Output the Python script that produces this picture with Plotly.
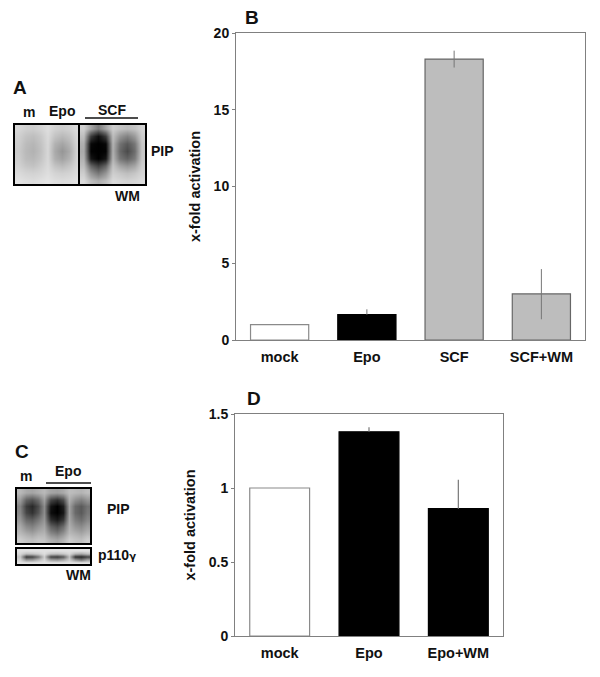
import plotly.graph_objects as go

W, H = 600, 677
FONT = "Liberation Sans"

# Panel B
b_cats = ["mock", "Epo", "SCF", "SCF+WM"]
b_vals = [1.0, 1.65, 18.3, 3.0]
b_err_up = [0, 0.35, 0.55, 1.62]
b_err_dn = [0, 0, 0.55, 1.65]
b_colors = ["#ffffff", "#000000", "#bdbdbd", "#bdbdbd"]
b_lines = ["#8a8a8a", "#000000", "#666666", "#666666"]
b_ticks = [0, 5, 10, 15, 20]

# Panel D
d_cats = ["mock", "Epo", "Epo+WM"]
d_vals = [1.0, 1.38, 0.86]
d_err_up = [0, 0.03, 0.195]
d_colors = ["#ffffff", "#000000", "#000000"]
d_lines = ["#8a8a8a", "#000000", "#000000"]
d_ticks = [0, 0.5, 1, 1.5]
d_ticklabels = ["0", "0.5", "1", "1.5"]

# Blots: grey levels (0 black, 255 white)
a_left = [
    [215, 208, 205, 212, 222, 210, 205, 210, 220],
    [208, 195, 190, 200, 218, 195, 185, 195, 215],
    [205, 188, 182, 195, 216, 178, 165, 182, 212],
    [202, 185, 178, 192, 215, 170, 150, 172, 210],
    [205, 188, 184, 196, 216, 176, 162, 180, 212],
    [210, 198, 194, 205, 218, 195, 186, 198, 215],
    [218, 212, 210, 214, 222, 212, 208, 212, 220],
    [226, 222, 220, 224, 228, 222, 220, 222, 226],
]
a_right = [
    [208, 165, 125, 165, 205, 195, 188, 195, 212],
    [190, 60, 15, 60, 190, 150, 130, 155, 205],
    [175, 8, 0, 8, 180, 115, 90, 120, 200],
    [170, 3, 0, 3, 176, 105, 75, 110, 198],
    [178, 22, 0, 22, 182, 120, 100, 125, 200],
    [190, 100, 65, 100, 195, 165, 150, 165, 206],
    [205, 150, 120, 150, 206, 198, 190, 198, 212],
    [218, 190, 175, 190, 218, 214, 210, 214, 220],
]
c_pip = [
    [185, 170, 165, 175, 185, 165, 160, 170, 190, 185, 180, 190],
    [155, 100, 85, 110, 160, 70, 50, 80, 175, 145, 130, 150],
    [130, 60, 40, 75, 140, 20, 0, 30, 160, 105, 90, 115],
    [135, 70, 50, 85, 140, 12, 0, 22, 160, 105, 90, 120],
    [150, 105, 95, 120, 150, 45, 25, 55, 165, 125, 110, 135],
    [170, 140, 130, 150, 165, 100, 80, 110, 175, 150, 140, 160],
    [185, 170, 160, 175, 180, 135, 120, 145, 185, 175, 165, 180],
    [205, 195, 190, 198, 195, 175, 165, 180, 205, 195, 190, 205],
]
c_p110 = [
    [225, 225, 225, 225, 225, 225, 225, 225, 225, 225, 225, 225],
    [215, 190, 195, 205, 222, 195, 190, 200, 215, 180, 170, 190],
    [195, 60, 70, 120, 205, 70, 60, 90, 190, 50, 40, 70],
    [210, 150, 155, 185, 215, 160, 150, 170, 205, 150, 120, 160],
    [228, 228, 228, 228, 228, 228, 228, 228, 228, 228, 228, 228],
]


def xdom(a, b):
    return [a / W, b / W]


def ydom(top, bottom):
    return [1 - bottom / H, 1 - top / H]


fig = go.Figure()

GREY = [[0, "#000000"], [1, "#ffffff"]]


def blot(z, xaxis, yaxis):
    fig.add_trace(go.Heatmap(z=z, xaxis=xaxis, yaxis=yaxis, colorscale=GREY, zmin=0, zmax=255,
                             zsmooth="best", showscale=False, hoverinfo="skip"))


blot(a_left, "x", "y")
blot(a_right, "x2", "y2")
blot(c_pip, "x3", "y3")
blot(c_p110, "x4", "y4")

fig.add_trace(go.Bar(x=b_cats, y=b_vals, xaxis="x5", yaxis="y5", width=0.667,
                     marker=dict(color=b_colors, line=dict(color=b_lines, width=1.2)),
                     error_y=dict(type="data", symmetric=False, array=b_err_up, arrayminus=b_err_dn,
                                  color="#777777", thickness=1, width=0)))
fig.add_trace(go.Bar(x=d_cats, y=d_vals, xaxis="x6", yaxis="y6", width=0.67,
                     marker=dict(color=d_colors, line=dict(color=d_lines, width=1.2)),
                     error_y=dict(type="data", symmetric=False, array=d_err_up, arrayminus=[0, 0, 0],
                                  color="#777777", thickness=1.2, width=0)))

blot_axis = dict(showticklabels=False, ticks="", showgrid=False, zeroline=False,
                 showline=True, mirror=True, linecolor="#000000", linewidth=2)
layout_axes = {
    "xaxis": dict(domain=xdom(15, 80), **blot_axis),
    "yaxis": dict(domain=ydom(125, 184), autorange="reversed", **blot_axis),
    "xaxis2": dict(domain=xdom(80, 145), anchor="y2", **blot_axis),
    "yaxis2": dict(domain=ydom(125, 184), anchor="x2", autorange="reversed", **blot_axis),
    "xaxis3": dict(domain=xdom(17, 90), anchor="y3", **blot_axis),
    "yaxis3": dict(domain=ydom(489, 543), anchor="x3", autorange="reversed", **blot_axis),
    "xaxis4": dict(domain=xdom(17, 90), anchor="y4", **blot_axis),
    "yaxis4": dict(domain=ydom(549, 564), anchor="x4", autorange="reversed", **blot_axis),
}
tick_font = dict(family=FONT, size=14, color="#111111", weight="bold")
title_font = dict(family=FONT, size=14.5, color="#111111", weight="bold")
cat_axis = dict(showgrid=False, zeroline=False, showline=True, mirror=True, linecolor="#808080", linewidth=1,
                ticks="", tickfont=dict(family=FONT, size=14.5, color="#111111", weight="bold"),
                type="category", automargin=False, ticklabelstandoff=4)
val_axis = dict(showgrid=False, zeroline=False, showline=True, mirror=True, linecolor="#808080", linewidth=1,
                ticks="outside", ticklen=3, tickcolor="#808080", tickfont=tick_font, automargin=False)
layout_axes["xaxis5"] = dict(domain=xdom(236, 585), anchor="y5", range=[-0.5, 3.5], **cat_axis)
layout_axes["yaxis5"] = dict(domain=ydom(33, 340), anchor="x5", range=[0, 20], tickvals=b_ticks,
                             title=dict(text="x-fold activation", font=title_font, standoff=9), **val_axis)
layout_axes["xaxis6"] = dict(domain=xdom(235, 503), anchor="y6", range=[-0.5, 2.5], **cat_axis)
layout_axes["yaxis6"] = dict(domain=ydom(414, 636), anchor="x6", range=[0, 1.5], tickvals=d_ticks,
                             ticktext=d_ticklabels,
                             title=dict(text="x-fold activation", font=title_font, standoff=9), **val_axis)


def label(text, x, y, size=14):
    return dict(text=f"<b>{text}</b>", x=x / W, y=1 - y / H, xref="paper", yref="paper",
                xanchor="center", yanchor="middle", showarrow=False,
                font=dict(family=FONT, size=size, color="#111111"))


annotations = [
    label("A", 20, 88, 19), label("B", 252, 18, 19), label("C", 22, 451, 19), label("D", 254, 398, 19),
    label("m", 29, 112), label("Epo", 62, 111), label("SCF", 112, 110),
    label("PIP", 162, 151), label("WM", 127, 196),
    label("m", 26, 476), label("Epo", 68, 471),
    label("PIP", 118, 509), label("p110<span style='font-family:DejaVu Sans;font-size:10px'>γ</span>", 117, 555),
    label("WM", 78, 575),
]


def rule(x0, x1, y):
    return dict(type="line", xref="paper", yref="paper", x0=x0 / W, x1=x1 / W,
                y0=1 - y / H, y1=1 - y / H, line=dict(color="#111111", width=1.5))


fig.update_layout(width=W, height=H, margin=dict(l=0, r=0, t=0, b=0, autoexpand=False),
                  paper_bgcolor="#ffffff",
                  plot_bgcolor="#ffffff", showlegend=False, annotations=annotations,
                  shapes=[rule(85, 138, 118), rule(46, 91, 483)], **layout_axes)

fig.write_html("out.html", config=dict(displayModeBar=False),
               post_script="document.body.style.margin='0';")
